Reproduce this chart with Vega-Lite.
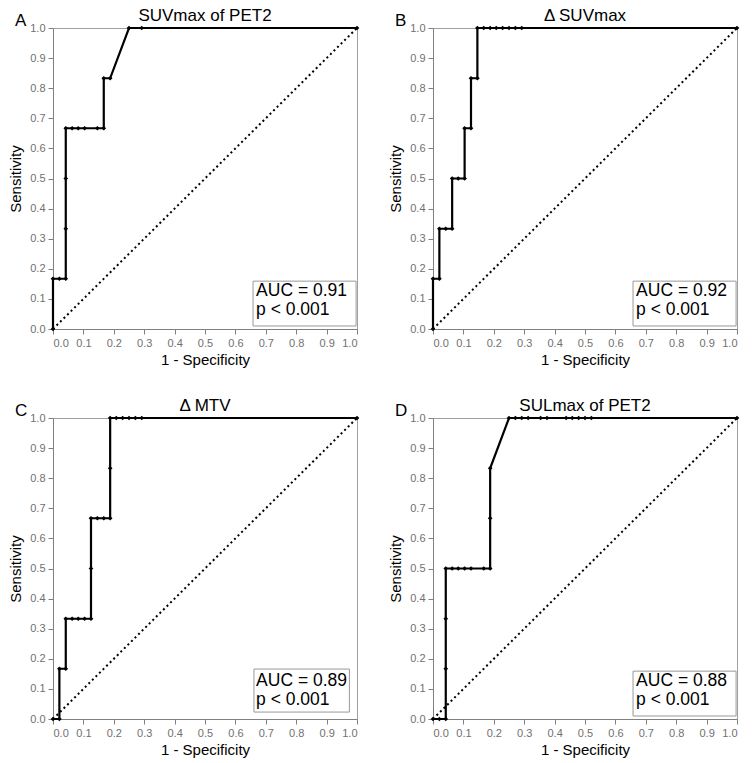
{
  "$schema": "https://vega.github.io/schema/vega-lite/v6.json",
  "padding": {"left": 8, "top": 6, "right": 5, "bottom": 2},
  "background": "white",
  "config": {
    "font": "Liberation Sans",
    "view": {"stroke": "#a0a0a0", "strokeWidth": 1},
    "axis": {"grid": false, "domainColor": "#808080", "tickColor": "#808080", "labelColor": "#707070", "labelFontSize": 11, "labelFont": "Liberation Sans", "titleFontSize": 15, "titleFontWeight": "normal", "titleColor": "black", "tickSize": 5, "labelPadding": 3},
    "axisX": {"titlePadding": 4},
    "axisY": {"titlePadding": 6}
  },
  "datasets": {
    "roc": [
      {"p": "A", "i": 0, "x": 0, "y": 0},
      {"p": "A", "i": 1, "x": 0, "y": 0.167},
      {"p": "A", "i": 2, "x": 0.021, "y": 0.167},
      {"p": "A", "i": 3, "x": 0.042, "y": 0.167},
      {"p": "A", "i": 4, "x": 0.042, "y": 0.333},
      {"p": "A", "i": 5, "x": 0.042, "y": 0.5},
      {"p": "A", "i": 6, "x": 0.042, "y": 0.667},
      {"p": "A", "i": 7, "x": 0.063, "y": 0.667},
      {"p": "A", "i": 8, "x": 0.083, "y": 0.667},
      {"p": "A", "i": 9, "x": 0.104, "y": 0.667},
      {"p": "A", "i": 10, "x": 0.146, "y": 0.667},
      {"p": "A", "i": 11, "x": 0.167, "y": 0.667},
      {"p": "A", "i": 12, "x": 0.167, "y": 0.833},
      {"p": "A", "i": 13, "x": 0.188, "y": 0.833},
      {"p": "A", "i": 14, "x": 0.25, "y": 1},
      {"p": "A", "i": 15, "x": 0.292, "y": 1},
      {"p": "A", "i": 16, "x": 1, "y": 1},

      {"p": "B", "i": 0, "x": 0, "y": 0},
      {"p": "B", "i": 1, "x": 0, "y": 0.167},
      {"p": "B", "i": 2, "x": 0.021, "y": 0.167},
      {"p": "B", "i": 3, "x": 0.021, "y": 0.333},
      {"p": "B", "i": 4, "x": 0.042, "y": 0.333},
      {"p": "B", "i": 5, "x": 0.063, "y": 0.333},
      {"p": "B", "i": 6, "x": 0.063, "y": 0.5},
      {"p": "B", "i": 7, "x": 0.083, "y": 0.5},
      {"p": "B", "i": 8, "x": 0.104, "y": 0.5},
      {"p": "B", "i": 9, "x": 0.104, "y": 0.667},
      {"p": "B", "i": 10, "x": 0.125, "y": 0.667},
      {"p": "B", "i": 11, "x": 0.125, "y": 0.833},
      {"p": "B", "i": 12, "x": 0.146, "y": 0.833},
      {"p": "B", "i": 13, "x": 0.146, "y": 1},
      {"p": "B", "i": 14, "x": 0.167, "y": 1},
      {"p": "B", "i": 15, "x": 0.188, "y": 1},
      {"p": "B", "i": 16, "x": 0.208, "y": 1},
      {"p": "B", "i": 17, "x": 0.229, "y": 1},
      {"p": "B", "i": 18, "x": 0.25, "y": 1},
      {"p": "B", "i": 19, "x": 0.271, "y": 1},
      {"p": "B", "i": 20, "x": 0.292, "y": 1},
      {"p": "B", "i": 21, "x": 1, "y": 1},

      {"p": "C", "i": 0, "x": 0, "y": 0},
      {"p": "C", "i": 1, "x": 0.021, "y": 0},
      {"p": "C", "i": 2, "x": 0.021, "y": 0.167},
      {"p": "C", "i": 3, "x": 0.042, "y": 0.167},
      {"p": "C", "i": 4, "x": 0.042, "y": 0.333},
      {"p": "C", "i": 5, "x": 0.063, "y": 0.333},
      {"p": "C", "i": 6, "x": 0.083, "y": 0.333},
      {"p": "C", "i": 7, "x": 0.104, "y": 0.333},
      {"p": "C", "i": 8, "x": 0.125, "y": 0.333},
      {"p": "C", "i": 9, "x": 0.125, "y": 0.5},
      {"p": "C", "i": 10, "x": 0.125, "y": 0.667},
      {"p": "C", "i": 11, "x": 0.146, "y": 0.667},
      {"p": "C", "i": 12, "x": 0.167, "y": 0.667},
      {"p": "C", "i": 13, "x": 0.188, "y": 0.667},
      {"p": "C", "i": 14, "x": 0.188, "y": 0.833},
      {"p": "C", "i": 15, "x": 0.188, "y": 1},
      {"p": "C", "i": 16, "x": 0.208, "y": 1},
      {"p": "C", "i": 17, "x": 0.229, "y": 1},
      {"p": "C", "i": 18, "x": 0.25, "y": 1},
      {"p": "C", "i": 19, "x": 0.271, "y": 1},
      {"p": "C", "i": 20, "x": 0.292, "y": 1},
      {"p": "C", "i": 21, "x": 1, "y": 1},

      {"p": "D", "i": 0, "x": 0, "y": 0},
      {"p": "D", "i": 1, "x": 0.021, "y": 0},
      {"p": "D", "i": 2, "x": 0.042, "y": 0},
      {"p": "D", "i": 3, "x": 0.042, "y": 0.167},
      {"p": "D", "i": 4, "x": 0.042, "y": 0.333},
      {"p": "D", "i": 5, "x": 0.042, "y": 0.5},
      {"p": "D", "i": 6, "x": 0.063, "y": 0.5},
      {"p": "D", "i": 7, "x": 0.083, "y": 0.5},
      {"p": "D", "i": 8, "x": 0.104, "y": 0.5},
      {"p": "D", "i": 9, "x": 0.125, "y": 0.5},
      {"p": "D", "i": 10, "x": 0.167, "y": 0.5},
      {"p": "D", "i": 11, "x": 0.188, "y": 0.5},
      {"p": "D", "i": 12, "x": 0.188, "y": 0.667},
      {"p": "D", "i": 13, "x": 0.188, "y": 0.833},
      {"p": "D", "i": 14, "x": 0.25, "y": 1},
      {"p": "D", "i": 15, "x": 0.271, "y": 1},
      {"p": "D", "i": 16, "x": 0.292, "y": 1},
      {"p": "D", "i": 17, "x": 0.313, "y": 1},
      {"p": "D", "i": 18, "x": 0.354, "y": 1},
      {"p": "D", "i": 19, "x": 0.375, "y": 1},
      {"p": "D", "i": 20, "x": 0.438, "y": 1},
      {"p": "D", "i": 21, "x": 0.458, "y": 1},
      {"p": "D", "i": 22, "x": 0.479, "y": 1},
      {"p": "D", "i": 23, "x": 0.5, "y": 1},
      {"p": "D", "i": 24, "x": 0.521, "y": 1},
      {"p": "D", "i": 25, "x": 1, "y": 1}
    ],
    "diag": [{"x": 0, "y": 0}, {"x": 1, "y": 1}],
    "info": [
      {"p": "A", "letter": "A", "title": "SUVmax of PET2", "auc": "AUC = 0.91", "pv": "p < 0.001"},
      {"p": "B", "letter": "B", "title": "Δ SUVmax", "auc": "AUC = 0.92", "pv": "p < 0.001"},
      {"p": "C", "letter": "C", "title": "Δ MTV", "auc": "AUC = 0.89", "pv": "p < 0.001"},
      {"p": "D", "letter": "D", "title": "SULmax of PET2", "auc": "AUC = 0.88", "pv": "p < 0.001"}
    ]
  },
  "bounds": "flush",
  "columns": 2,
  "spacing": {"row": 89, "column": 76},
  "concat": [
    {
      "width": 304, "height": 301,
      "layer": [
        {"data": {"name": "diag"}, "mark": {"type": "line", "color": "black", "strokeWidth": 2, "strokeDash": [2, 3]},
         "encoding": {
           "x": {"field": "x", "type": "quantitative", "scale": {"domain": [0, 1], "nice": false}, "axis": {"values": [0, 0.1, 0.2, 0.3, 0.4, 0.5, 0.6, 0.7, 0.8, 0.9, 1], "format": ".1f", "title": "1 - Specificity"}},
           "y": {"field": "y", "type": "quantitative", "scale": {"domain": [0, 1], "nice": false}, "axis": {"values": [0, 0.1, 0.2, 0.3, 0.4, 0.5, 0.6, 0.7, 0.8, 0.9, 1], "format": ".1f", "title": "Sensitivity"}}}},
        {"data": {"name": "roc"}, "transform": [{"filter": "datum.p === 'A'"}], "mark": {"type": "line", "color": "black", "strokeWidth": 2.2, "point": {"shape": "diamond", "size": 22, "filled": true, "color": "black"}},
         "encoding": {
           "x": {"field": "x", "type": "quantitative", "scale": {"domain": [0, 1], "nice": false}, "axis": {"values": [0, 0.1, 0.2, 0.3, 0.4, 0.5, 0.6, 0.7, 0.8, 0.9, 1], "format": ".1f", "title": "1 - Specificity"}},
           "y": {"field": "y", "type": "quantitative", "scale": {"domain": [0, 1], "nice": false}, "axis": {"values": [0, 0.1, 0.2, 0.3, 0.4, 0.5, 0.6, 0.7, 0.8, 0.9, 1], "format": ".1f", "title": "Sensitivity"}},
           "order": {"field": "i", "type": "quantitative"}}},
        {"data": {"name": "info"}, "transform": [{"filter": "datum.p === 'A'"}],
         "encoding": {
           "x": {"datum": 0.5, "type": "quantitative", "scale": {"domain": [0, 1], "nice": false}, "axis": {"values": [0, 0.1, 0.2, 0.3, 0.4, 0.5, 0.6, 0.7, 0.8, 0.9, 1], "format": ".1f", "title": "1 - Specificity"}},
           "y": {"datum": 0.5, "type": "quantitative", "scale": {"domain": [0, 1], "nice": false}, "axis": {"values": [0, 0.1, 0.2, 0.3, 0.4, 0.5, 0.6, 0.7, 0.8, 0.9, 1], "format": ".1f", "title": "Sensitivity"}}},
         "layer": [
           {"mark": {"type": "rect", "fill": "white", "stroke": "#999999", "strokeWidth": 1}, "encoding": {"x": {"datum": 0.658, "type": "quantitative", "axis": {"values": [0, 0.1, 0.2, 0.3, 0.4, 0.5, 0.6, 0.7, 0.8, 0.9, 1], "format": ".1f", "title": "1 - Specificity"}}, "x2": {"datum": 0.997}, "y": {"datum": 0.01, "type": "quantitative", "axis": {"values": [0, 0.1, 0.2, 0.3, 0.4, 0.5, 0.6, 0.7, 0.8, 0.9, 1], "format": ".1f", "title": "Sensitivity"}}, "y2": {"datum": 0.159}}},
           {"mark": {"type": "text", "align": "left", "baseline": "alphabetic", "fontSize": 17.5, "color": "black"}, "encoding": {"x": {"datum": 0.668, "type": "quantitative", "axis": {"values": [0, 0.1, 0.2, 0.3, 0.4, 0.5, 0.6, 0.7, 0.8, 0.9, 1], "format": ".1f", "title": "1 - Specificity"}}, "y": {"datum": 0.108, "type": "quantitative", "axis": {"values": [0, 0.1, 0.2, 0.3, 0.4, 0.5, 0.6, 0.7, 0.8, 0.9, 1], "format": ".1f", "title": "Sensitivity"}}, "text": {"field": "auc"}}},
           {"mark": {"type": "text", "align": "left", "baseline": "alphabetic", "fontSize": 17.5, "color": "black"}, "encoding": {"x": {"datum": 0.668, "type": "quantitative", "axis": {"values": [0, 0.1, 0.2, 0.3, 0.4, 0.5, 0.6, 0.7, 0.8, 0.9, 1], "format": ".1f", "title": "1 - Specificity"}}, "y": {"datum": 0.045, "type": "quantitative", "axis": {"values": [0, 0.1, 0.2, 0.3, 0.4, 0.5, 0.6, 0.7, 0.8, 0.9, 1], "format": ".1f", "title": "Sensitivity"}}, "text": {"field": "pv"}}},
           {"mark": {"type": "text", "align": "left", "baseline": "alphabetic", "fontSize": 17, "color": "black"}, "encoding": {"x": {"datum": -0.125, "type": "quantitative", "axis": {"values": [0, 0.1, 0.2, 0.3, 0.4, 0.5, 0.6, 0.7, 0.8, 0.9, 1], "format": ".1f", "title": "1 - Specificity"}}, "y": {"datum": 1.008, "type": "quantitative", "axis": {"values": [0, 0.1, 0.2, 0.3, 0.4, 0.5, 0.6, 0.7, 0.8, 0.9, 1], "format": ".1f", "title": "Sensitivity"}}, "text": {"field": "letter"}}},
           {"mark": {"type": "text", "align": "center", "baseline": "alphabetic", "fontSize": 17, "color": "black"}, "encoding": {"x": {"datum": 0.5, "type": "quantitative", "axis": {"values": [0, 0.1, 0.2, 0.3, 0.4, 0.5, 0.6, 0.7, 0.8, 0.9, 1], "format": ".1f", "title": "1 - Specificity"}}, "y": {"datum": 1.024, "type": "quantitative", "axis": {"values": [0, 0.1, 0.2, 0.3, 0.4, 0.5, 0.6, 0.7, 0.8, 0.9, 1], "format": ".1f", "title": "Sensitivity"}}, "text": {"field": "title"}}}
         ]}
      ]
    },
    {
      "width": 304, "height": 301,
      "layer": [
        {"data": {"name": "diag"}, "mark": {"type": "line", "color": "black", "strokeWidth": 2, "strokeDash": [2, 3]},
         "encoding": {
           "x": {"field": "x", "type": "quantitative", "scale": {"domain": [0, 1], "nice": false}, "axis": {"values": [0, 0.1, 0.2, 0.3, 0.4, 0.5, 0.6, 0.7, 0.8, 0.9, 1], "format": ".1f", "title": "1 - Specificity"}},
           "y": {"field": "y", "type": "quantitative", "scale": {"domain": [0, 1], "nice": false}, "axis": {"values": [0, 0.1, 0.2, 0.3, 0.4, 0.5, 0.6, 0.7, 0.8, 0.9, 1], "format": ".1f", "title": "Sensitivity"}}}},
        {"data": {"name": "roc"}, "transform": [{"filter": "datum.p === 'B'"}], "mark": {"type": "line", "color": "black", "strokeWidth": 2.2, "point": {"shape": "diamond", "size": 22, "filled": true, "color": "black"}},
         "encoding": {
           "x": {"field": "x", "type": "quantitative", "scale": {"domain": [0, 1], "nice": false}, "axis": {"values": [0, 0.1, 0.2, 0.3, 0.4, 0.5, 0.6, 0.7, 0.8, 0.9, 1], "format": ".1f", "title": "1 - Specificity"}},
           "y": {"field": "y", "type": "quantitative", "scale": {"domain": [0, 1], "nice": false}, "axis": {"values": [0, 0.1, 0.2, 0.3, 0.4, 0.5, 0.6, 0.7, 0.8, 0.9, 1], "format": ".1f", "title": "Sensitivity"}},
           "order": {"field": "i", "type": "quantitative"}}},
        {"data": {"name": "info"}, "transform": [{"filter": "datum.p === 'B'"}],
         "encoding": {
           "x": {"datum": 0.5, "type": "quantitative", "scale": {"domain": [0, 1], "nice": false}, "axis": {"values": [0, 0.1, 0.2, 0.3, 0.4, 0.5, 0.6, 0.7, 0.8, 0.9, 1], "format": ".1f", "title": "1 - Specificity"}},
           "y": {"datum": 0.5, "type": "quantitative", "scale": {"domain": [0, 1], "nice": false}, "axis": {"values": [0, 0.1, 0.2, 0.3, 0.4, 0.5, 0.6, 0.7, 0.8, 0.9, 1], "format": ".1f", "title": "Sensitivity"}}},
         "layer": [
           {"mark": {"type": "rect", "fill": "white", "stroke": "#999999", "strokeWidth": 1}, "encoding": {"x": {"datum": 0.658, "type": "quantitative", "axis": {"values": [0, 0.1, 0.2, 0.3, 0.4, 0.5, 0.6, 0.7, 0.8, 0.9, 1], "format": ".1f", "title": "1 - Specificity"}}, "x2": {"datum": 0.997}, "y": {"datum": 0.01, "type": "quantitative", "axis": {"values": [0, 0.1, 0.2, 0.3, 0.4, 0.5, 0.6, 0.7, 0.8, 0.9, 1], "format": ".1f", "title": "Sensitivity"}}, "y2": {"datum": 0.159}}},
           {"mark": {"type": "text", "align": "left", "baseline": "alphabetic", "fontSize": 17.5, "color": "black"}, "encoding": {"x": {"datum": 0.668, "type": "quantitative", "axis": {"values": [0, 0.1, 0.2, 0.3, 0.4, 0.5, 0.6, 0.7, 0.8, 0.9, 1], "format": ".1f", "title": "1 - Specificity"}}, "y": {"datum": 0.108, "type": "quantitative", "axis": {"values": [0, 0.1, 0.2, 0.3, 0.4, 0.5, 0.6, 0.7, 0.8, 0.9, 1], "format": ".1f", "title": "Sensitivity"}}, "text": {"field": "auc"}}},
           {"mark": {"type": "text", "align": "left", "baseline": "alphabetic", "fontSize": 17.5, "color": "black"}, "encoding": {"x": {"datum": 0.668, "type": "quantitative", "axis": {"values": [0, 0.1, 0.2, 0.3, 0.4, 0.5, 0.6, 0.7, 0.8, 0.9, 1], "format": ".1f", "title": "1 - Specificity"}}, "y": {"datum": 0.045, "type": "quantitative", "axis": {"values": [0, 0.1, 0.2, 0.3, 0.4, 0.5, 0.6, 0.7, 0.8, 0.9, 1], "format": ".1f", "title": "Sensitivity"}}, "text": {"field": "pv"}}},
           {"mark": {"type": "text", "align": "left", "baseline": "alphabetic", "fontSize": 17, "color": "black"}, "encoding": {"x": {"datum": -0.125, "type": "quantitative", "axis": {"values": [0, 0.1, 0.2, 0.3, 0.4, 0.5, 0.6, 0.7, 0.8, 0.9, 1], "format": ".1f", "title": "1 - Specificity"}}, "y": {"datum": 1.008, "type": "quantitative", "axis": {"values": [0, 0.1, 0.2, 0.3, 0.4, 0.5, 0.6, 0.7, 0.8, 0.9, 1], "format": ".1f", "title": "Sensitivity"}}, "text": {"field": "letter"}}},
           {"mark": {"type": "text", "align": "center", "baseline": "alphabetic", "fontSize": 17, "color": "black"}, "encoding": {"x": {"datum": 0.5, "type": "quantitative", "axis": {"values": [0, 0.1, 0.2, 0.3, 0.4, 0.5, 0.6, 0.7, 0.8, 0.9, 1], "format": ".1f", "title": "1 - Specificity"}}, "y": {"datum": 1.024, "type": "quantitative", "axis": {"values": [0, 0.1, 0.2, 0.3, 0.4, 0.5, 0.6, 0.7, 0.8, 0.9, 1], "format": ".1f", "title": "Sensitivity"}}, "text": {"field": "title"}}}
         ]}
      ]
    },
    {
      "width": 304, "height": 301,
      "layer": [
        {"data": {"name": "diag"}, "mark": {"type": "line", "color": "black", "strokeWidth": 2, "strokeDash": [2, 3]},
         "encoding": {
           "x": {"field": "x", "type": "quantitative", "scale": {"domain": [0, 1], "nice": false}, "axis": {"values": [0, 0.1, 0.2, 0.3, 0.4, 0.5, 0.6, 0.7, 0.8, 0.9, 1], "format": ".1f", "title": "1 - Specificity"}},
           "y": {"field": "y", "type": "quantitative", "scale": {"domain": [0, 1], "nice": false}, "axis": {"values": [0, 0.1, 0.2, 0.3, 0.4, 0.5, 0.6, 0.7, 0.8, 0.9, 1], "format": ".1f", "title": "Sensitivity"}}}},
        {"data": {"name": "roc"}, "transform": [{"filter": "datum.p === 'C'"}], "mark": {"type": "line", "color": "black", "strokeWidth": 2.2, "point": {"shape": "diamond", "size": 22, "filled": true, "color": "black"}},
         "encoding": {
           "x": {"field": "x", "type": "quantitative", "scale": {"domain": [0, 1], "nice": false}, "axis": {"values": [0, 0.1, 0.2, 0.3, 0.4, 0.5, 0.6, 0.7, 0.8, 0.9, 1], "format": ".1f", "title": "1 - Specificity"}},
           "y": {"field": "y", "type": "quantitative", "scale": {"domain": [0, 1], "nice": false}, "axis": {"values": [0, 0.1, 0.2, 0.3, 0.4, 0.5, 0.6, 0.7, 0.8, 0.9, 1], "format": ".1f", "title": "Sensitivity"}},
           "order": {"field": "i", "type": "quantitative"}}},
        {"data": {"name": "info"}, "transform": [{"filter": "datum.p === 'C'"}],
         "encoding": {
           "x": {"datum": 0.5, "type": "quantitative", "scale": {"domain": [0, 1], "nice": false}, "axis": {"values": [0, 0.1, 0.2, 0.3, 0.4, 0.5, 0.6, 0.7, 0.8, 0.9, 1], "format": ".1f", "title": "1 - Specificity"}},
           "y": {"datum": 0.5, "type": "quantitative", "scale": {"domain": [0, 1], "nice": false}, "axis": {"values": [0, 0.1, 0.2, 0.3, 0.4, 0.5, 0.6, 0.7, 0.8, 0.9, 1], "format": ".1f", "title": "Sensitivity"}}},
         "layer": [
           {"mark": {"type": "rect", "fill": "white", "stroke": "#999999", "strokeWidth": 1}, "encoding": {"x": {"datum": 0.661, "type": "quantitative", "axis": {"values": [0, 0.1, 0.2, 0.3, 0.4, 0.5, 0.6, 0.7, 0.8, 0.9, 1], "format": ".1f", "title": "1 - Specificity"}}, "x2": {"datum": 0.975}, "y": {"datum": 0.023, "type": "quantitative", "axis": {"values": [0, 0.1, 0.2, 0.3, 0.4, 0.5, 0.6, 0.7, 0.8, 0.9, 1], "format": ".1f", "title": "Sensitivity"}}, "y2": {"datum": 0.166}}},
           {"mark": {"type": "text", "align": "left", "baseline": "alphabetic", "fontSize": 17.5, "color": "black"}, "encoding": {"x": {"datum": 0.668, "type": "quantitative", "axis": {"values": [0, 0.1, 0.2, 0.3, 0.4, 0.5, 0.6, 0.7, 0.8, 0.9, 1], "format": ".1f", "title": "1 - Specificity"}}, "y": {"datum": 0.108, "type": "quantitative", "axis": {"values": [0, 0.1, 0.2, 0.3, 0.4, 0.5, 0.6, 0.7, 0.8, 0.9, 1], "format": ".1f", "title": "Sensitivity"}}, "text": {"field": "auc"}}},
           {"mark": {"type": "text", "align": "left", "baseline": "alphabetic", "fontSize": 17.5, "color": "black"}, "encoding": {"x": {"datum": 0.668, "type": "quantitative", "axis": {"values": [0, 0.1, 0.2, 0.3, 0.4, 0.5, 0.6, 0.7, 0.8, 0.9, 1], "format": ".1f", "title": "1 - Specificity"}}, "y": {"datum": 0.045, "type": "quantitative", "axis": {"values": [0, 0.1, 0.2, 0.3, 0.4, 0.5, 0.6, 0.7, 0.8, 0.9, 1], "format": ".1f", "title": "Sensitivity"}}, "text": {"field": "pv"}}},
           {"mark": {"type": "text", "align": "left", "baseline": "alphabetic", "fontSize": 17, "color": "black"}, "encoding": {"x": {"datum": -0.125, "type": "quantitative", "axis": {"values": [0, 0.1, 0.2, 0.3, 0.4, 0.5, 0.6, 0.7, 0.8, 0.9, 1], "format": ".1f", "title": "1 - Specificity"}}, "y": {"datum": 1.008, "type": "quantitative", "axis": {"values": [0, 0.1, 0.2, 0.3, 0.4, 0.5, 0.6, 0.7, 0.8, 0.9, 1], "format": ".1f", "title": "Sensitivity"}}, "text": {"field": "letter"}}},
           {"mark": {"type": "text", "align": "center", "baseline": "alphabetic", "fontSize": 17, "color": "black"}, "encoding": {"x": {"datum": 0.5, "type": "quantitative", "axis": {"values": [0, 0.1, 0.2, 0.3, 0.4, 0.5, 0.6, 0.7, 0.8, 0.9, 1], "format": ".1f", "title": "1 - Specificity"}}, "y": {"datum": 1.024, "type": "quantitative", "axis": {"values": [0, 0.1, 0.2, 0.3, 0.4, 0.5, 0.6, 0.7, 0.8, 0.9, 1], "format": ".1f", "title": "Sensitivity"}}, "text": {"field": "title"}}}
         ]}
      ]
    },
    {
      "width": 304, "height": 301,
      "layer": [
        {"data": {"name": "diag"}, "mark": {"type": "line", "color": "black", "strokeWidth": 2, "strokeDash": [2, 3]},
         "encoding": {
           "x": {"field": "x", "type": "quantitative", "scale": {"domain": [0, 1], "nice": false}, "axis": {"values": [0, 0.1, 0.2, 0.3, 0.4, 0.5, 0.6, 0.7, 0.8, 0.9, 1], "format": ".1f", "title": "1 - Specificity"}},
           "y": {"field": "y", "type": "quantitative", "scale": {"domain": [0, 1], "nice": false}, "axis": {"values": [0, 0.1, 0.2, 0.3, 0.4, 0.5, 0.6, 0.7, 0.8, 0.9, 1], "format": ".1f", "title": "Sensitivity"}}}},
        {"data": {"name": "roc"}, "transform": [{"filter": "datum.p === 'D'"}], "mark": {"type": "line", "color": "black", "strokeWidth": 2.2, "point": {"shape": "diamond", "size": 22, "filled": true, "color": "black"}},
         "encoding": {
           "x": {"field": "x", "type": "quantitative", "scale": {"domain": [0, 1], "nice": false}, "axis": {"values": [0, 0.1, 0.2, 0.3, 0.4, 0.5, 0.6, 0.7, 0.8, 0.9, 1], "format": ".1f", "title": "1 - Specificity"}},
           "y": {"field": "y", "type": "quantitative", "scale": {"domain": [0, 1], "nice": false}, "axis": {"values": [0, 0.1, 0.2, 0.3, 0.4, 0.5, 0.6, 0.7, 0.8, 0.9, 1], "format": ".1f", "title": "Sensitivity"}},
           "order": {"field": "i", "type": "quantitative"}}},
        {"data": {"name": "info"}, "transform": [{"filter": "datum.p === 'D'"}],
         "encoding": {
           "x": {"datum": 0.5, "type": "quantitative", "scale": {"domain": [0, 1], "nice": false}, "axis": {"values": [0, 0.1, 0.2, 0.3, 0.4, 0.5, 0.6, 0.7, 0.8, 0.9, 1], "format": ".1f", "title": "1 - Specificity"}},
           "y": {"datum": 0.5, "type": "quantitative", "scale": {"domain": [0, 1], "nice": false}, "axis": {"values": [0, 0.1, 0.2, 0.3, 0.4, 0.5, 0.6, 0.7, 0.8, 0.9, 1], "format": ".1f", "title": "Sensitivity"}}},
         "layer": [
           {"mark": {"type": "rect", "fill": "white", "stroke": "#999999", "strokeWidth": 1}, "encoding": {"x": {"datum": 0.658, "type": "quantitative", "axis": {"values": [0, 0.1, 0.2, 0.3, 0.4, 0.5, 0.6, 0.7, 0.8, 0.9, 1], "format": ".1f", "title": "1 - Specificity"}}, "x2": {"datum": 0.997}, "y": {"datum": 0.01, "type": "quantitative", "axis": {"values": [0, 0.1, 0.2, 0.3, 0.4, 0.5, 0.6, 0.7, 0.8, 0.9, 1], "format": ".1f", "title": "Sensitivity"}}, "y2": {"datum": 0.159}}},
           {"mark": {"type": "text", "align": "left", "baseline": "alphabetic", "fontSize": 17.5, "color": "black"}, "encoding": {"x": {"datum": 0.668, "type": "quantitative", "axis": {"values": [0, 0.1, 0.2, 0.3, 0.4, 0.5, 0.6, 0.7, 0.8, 0.9, 1], "format": ".1f", "title": "1 - Specificity"}}, "y": {"datum": 0.108, "type": "quantitative", "axis": {"values": [0, 0.1, 0.2, 0.3, 0.4, 0.5, 0.6, 0.7, 0.8, 0.9, 1], "format": ".1f", "title": "Sensitivity"}}, "text": {"field": "auc"}}},
           {"mark": {"type": "text", "align": "left", "baseline": "alphabetic", "fontSize": 17.5, "color": "black"}, "encoding": {"x": {"datum": 0.668, "type": "quantitative", "axis": {"values": [0, 0.1, 0.2, 0.3, 0.4, 0.5, 0.6, 0.7, 0.8, 0.9, 1], "format": ".1f", "title": "1 - Specificity"}}, "y": {"datum": 0.045, "type": "quantitative", "axis": {"values": [0, 0.1, 0.2, 0.3, 0.4, 0.5, 0.6, 0.7, 0.8, 0.9, 1], "format": ".1f", "title": "Sensitivity"}}, "text": {"field": "pv"}}},
           {"mark": {"type": "text", "align": "left", "baseline": "alphabetic", "fontSize": 17, "color": "black"}, "encoding": {"x": {"datum": -0.125, "type": "quantitative", "axis": {"values": [0, 0.1, 0.2, 0.3, 0.4, 0.5, 0.6, 0.7, 0.8, 0.9, 1], "format": ".1f", "title": "1 - Specificity"}}, "y": {"datum": 1.008, "type": "quantitative", "axis": {"values": [0, 0.1, 0.2, 0.3, 0.4, 0.5, 0.6, 0.7, 0.8, 0.9, 1], "format": ".1f", "title": "Sensitivity"}}, "text": {"field": "letter"}}},
           {"mark": {"type": "text", "align": "center", "baseline": "alphabetic", "fontSize": 17, "color": "black"}, "encoding": {"x": {"datum": 0.5, "type": "quantitative", "axis": {"values": [0, 0.1, 0.2, 0.3, 0.4, 0.5, 0.6, 0.7, 0.8, 0.9, 1], "format": ".1f", "title": "1 - Specificity"}}, "y": {"datum": 1.024, "type": "quantitative", "axis": {"values": [0, 0.1, 0.2, 0.3, 0.4, 0.5, 0.6, 0.7, 0.8, 0.9, 1], "format": ".1f", "title": "Sensitivity"}}, "text": {"field": "title"}}}
         ]}
      ]
    }
  ]
}
